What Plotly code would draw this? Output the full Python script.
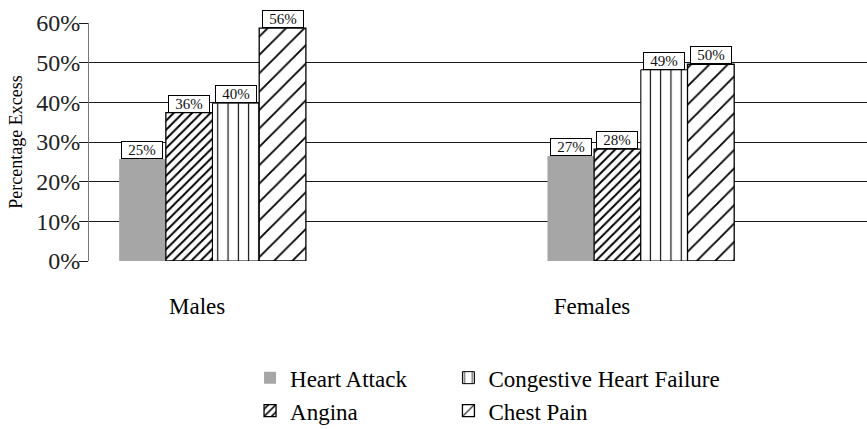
import plotly.graph_objects as go

# ---- data ----
groups = ["Males", "Females"]
group_pos = [0, 1]
heart_attack = [25.7, 26.5]
angina = [37.4, 28.2]
chf = [39.8, 48.2]
chest_pain = [58.7, 49.6]
label_heart_attack = ["25%", "27%"]
label_angina = ["36%", "28%"]
label_chf = ["40%", "49%"]
label_chest_pain = ["56%", "50%"]
y_ticks = [0, 10, 20, 30, 40, 50, 60]
y_ticktext = ["0%", "10%", "20%", "30%", "40%", "50%", "60%"]

FONT = "Liberation Serif, Times New Roman, serif"
BARGAP = 0.564
group_label_pos = [-0.036, 0.886]

series = [
    ("Heart Attack", heart_attack, label_heart_attack,
     dict(color="#a6a6a6", line=dict(width=0)), "legend", 1),
    ("Angina", angina, label_angina,
     dict(color="white", line=dict(color="black", width=1.3),
          pattern=dict(shape="/", size=6.5, solidity=0.3, fgcolor="#000000",
                       fgopacity=1, bgcolor="white", fillmode="replace")),
     "legend", 2),
    ("Congestive Heart Failure", chf, label_chf,
     dict(color="white", line=dict(color="black", width=1),
          pattern=dict(shape="|", size=10.3, solidity=0.11, fgcolor="#000000",
                       fgopacity=1, bgcolor="white", fillmode="replace")),
     "legend2", 1),
    ("Chest Pain", chest_pain, label_chest_pain,
     dict(color="white", line=dict(color="black", width=1.3),
          pattern=dict(shape="/", size=13, solidity=0.14, fgcolor="#000000",
                       fgopacity=1, bgcolor="white", fillmode="replace")),
     "legend2", 2),
]

fig = go.Figure()
n = len(series)
slot = (1 - BARGAP) / n
annotations = []
for i, (name, vals, labels, marker, leg, rank) in enumerate(series):
    fig.add_trace(go.Bar(name=name, x=group_pos, y=vals, marker=marker,
                         legend=leg, legendrank=rank, hoverinfo="skip"))
    for g, v, t in zip(group_pos, vals, labels):
        annotations.append(dict(
            x=g + (i - (n - 1) / 2) * slot, y=v, xref="x", yref="y",
            text=t, showarrow=False, yanchor="bottom", xanchor="center",
            bgcolor="white", bordercolor="black", borderwidth=1, borderpad=0,
            width=40, height=16, font=dict(family=FONT, size=15, color="#111")))

fig.update_layout(
    width=867, height=429,
    margin=dict(l=89, r=0, t=23, b=168, autoexpand=False),
    paper_bgcolor="white", plot_bgcolor="white",
    barmode="group", bargap=BARGAP, bargroupgap=0,
    font=dict(family=FONT, color="black"),
    annotations=annotations,
    showlegend=True,
    legend=dict(x=0.207, y=-0.4, xanchor="left", yanchor="top",
                font=dict(family=FONT, size=23, color="black"),
                bgcolor="rgba(0,0,0,0)", tracegroupgap=0, traceorder="normal"),
    legend2=dict(x=0.462, y=-0.4, xanchor="left", yanchor="top",
                 font=dict(family=FONT, size=23, color="black"),
                 bgcolor="rgba(0,0,0,0)", tracegroupgap=0, traceorder="normal"),
)
fig.update_xaxes(
    range=[-0.2884, 1.5281], tickvals=group_label_pos, ticktext=groups,
    showgrid=False, zeroline=False, showline=False, ticks="",
    tickfont=dict(family=FONT, size=23, color="black"), ticklabelstandoff=29,
    fixedrange=True, automargin=False,
)
fig.update_yaxes(
    range=[0, 60], tickvals=y_ticks, ticktext=y_ticktext,
    showgrid=True, gridcolor="#1a1a1a", gridwidth=1, zeroline=False,
    showline=True, linecolor="#777777", linewidth=1,
    ticks="outside", ticklen=9, tickcolor="#1a1a1a", tickwidth=1,
    ticklabelstandoff=-6,
    tickfont=dict(family=FONT, size=24, color="#222"),
    title=dict(text="Percentage Excess", font=dict(family=FONT, size=18, color="black"), standoff=8),
    fixedrange=True, automargin=False,
)

fig.write_html(
    "out.html",
    config={"displayModeBar": False},
    post_script="document.body.style.margin='0';document.body.style.padding='0';",
)
